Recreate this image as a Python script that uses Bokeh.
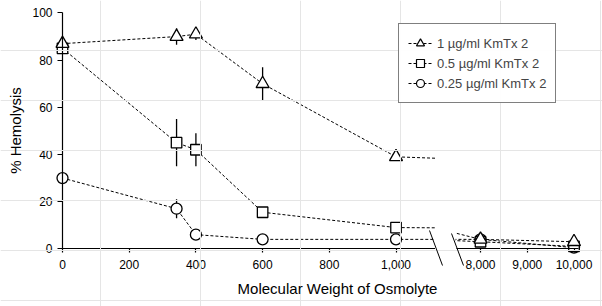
import math
from bokeh.plotting import figure
from bokeh.layouts import row
from bokeh.models import (Range1d, FixedTicker, NumeralTickFormatter, Legend, LegendItem,
                          Label, ColumnDataSource)
from bokeh.embed import file_html
from bokeh.resources import INLINE

# ---- data ----
mw = [0, 342, 400, 600, 1000, 8000, 10000]
hemo_1 = [87, 90, 91, 70, 39, 4, 3]
err_1 = [0, 3.5, 2.5, 7, 0, 0, 0]
hemo_05 = [85, 45, 42, 15.5, 9, 3, 1]
err_05 = [0, 10, 7, 0, 0, 0, 0]
hemo_025 = [30, 17, 6, 4, 4, 4, 0.5]
err_025 = [0, 4, 0, 0, 0, 0, 0]
series_labels = ["1 µg/ml KmTx 2", "0.5 µg/ml KmTx 2", "0.25 µg/ml KmTx 2"]

left_ticks = [0, 200, 400, 600, 800, 1000]
right_ticks = [8000, 9000, 10000]
y_ticks = [0, 20, 40, 60, 80, 100]

FONT = "Liberation Sans"

# drawing order: circles, squares, triangles (triangles on top)
series = [
    (hemo_025, err_025, "circle", 11, series_labels[2]),
    (hemo_05, err_05, "square", 10.5, series_labels[1]),
    (hemo_1, err_1, "triangle", 13, series_labels[0]),
]


def common(p):
    p.outline_line_color = None
    p.background_fill_color = None
    p.border_fill_color = None
    p.grid.visible = False


def make_sources():
    srcs = []
    for ys, es, mk, sz, lab in series:
        lo = [y - e for y, e in zip(ys, es)]
        hi = [y + e for y, e in zip(ys, es)]
        srcs.append(ColumnDataSource(dict(x=mw, y=ys, lo=lo, hi=hi)))
    return srcs


def draw(p):
    srcs = make_sources()
    for src in srcs:
        p.segment(x0="x", y0="lo", x1="x", y1="hi", source=src,
                  line_color="black", line_width=1.3)
    for src in srcs:
        p.line("x", "y", source=src, line_color="black", line_width=1, line_dash="3 2")
    for src, (ys, es, mk, sz, lab) in zip(srcs, series):
        p.scatter("x", "y", source=src, marker=mk, size=sz,
                  fill_color="white", line_color="black", line_width=1.3)


def style_axis(ax, ticks, bounds, tick_out, standoff):
    ax.ticker = FixedTicker(ticks=ticks)
    ax.fixed_location = 0
    ax.bounds = bounds
    ax.axis_line_color = "black"
    ax.axis_line_width = 1.2
    ax.major_tick_line_color = "black"
    ax.major_tick_line_width = 1.2
    ax.major_tick_out = tick_out
    ax.major_tick_in = 0
    ax.minor_tick_out = 0
    ax.minor_tick_in = 0
    ax.major_label_text_font = FONT
    ax.major_label_text_font_size = "12px"
    ax.major_label_text_color = "black"
    ax.major_label_standoff = standoff


y_range = (-24.47, 105.30)

# ---- left segment (frame ends at the axis break) ----
L = figure(width=435, height=306, x_range=Range1d(-185.9, 1118.4),
           y_range=Range1d(*y_range), output_backend="svg", toolbar_location=None,
           min_border=0)
common(L)
draw(L)
style_axis(L.xaxis[0], left_ticks, (0, 1118), 4, 7)
L.xaxis[0].formatter = NumeralTickFormatter(format="0,0")
style_axis(L.yaxis[0], y_ticks, (0, 100), 5, 5)

# ---- right segment ----
R = figure(width=147, height=306, x_range=Range1d(7465, 10609.6),
           y_range=Range1d(*y_range), output_backend="svg", toolbar_location=None,
           y_axis_location=None, min_border=0)
common(R)
draw(R)
style_axis(R.xaxis[0], right_ticks, (7487, 10096), 4, 7)
R.xaxis[0].formatter = NumeralTickFormatter(format="0,0")
R.styles = {"margin-left": "20px"}

# ---- overlay: axis titles, break marks, legend ----
O = figure(width=602, height=306, x_range=Range1d(0, 602), y_range=Range1d(306, 0),
           output_backend="svg", toolbar_location=None, x_axis_location=None,
           y_axis_location=None, min_border=0)
O.outline_line_color = None
O.background_fill_color = None
O.border_fill_color = None
O.styles = {"margin-left": "-602px"}

O.add_layout(Label(x=15, y=130, text="% Hemolysis", angle=math.pi / 2,
                   text_align="center", text_baseline="middle",
                   text_font=FONT, text_font_size="15px", text_color="black"))
O.add_layout(Label(x=337, y=288, text="Molecular Weight of Osmolyte",
                   text_align="center", text_baseline="alphabetic",
                   text_font=FONT, text_font_size="15px", text_color="black"))
O.segment(x0=[429, 451], y0=[230, 233], x1=[442, 463], y1=[265, 265],
          line_color="black", line_width=1)

# legend: hidden renderers carry the series styles for the legend glyphs
items = []
for src, (ys, es, mk, sz, lab) in reversed(list(zip(make_sources(), series))):
    ln = O.line("x", "y", source=src, line_color="black", line_width=1,
                line_dash="3 2", visible=False)
    sc = O.scatter("x", "y", source=src, marker=mk, size=sz, fill_color="white",
                   line_color="black", line_width=1.2, visible=False)
    items.append(LegendItem(label=lab, renderers=[ln, sc]))
legend = Legend(items=items, location=(398, 203), border_line_color="black",
                border_line_width=1, label_text_font=FONT, label_text_font_size="13px",
                glyph_width=24, glyph_height=20, label_height=14, spacing=-5,
                padding=9, label_standoff=5, margin=0, background_fill_color="white",
                inactive_fill_alpha=0)
O.add_layout(legend)

layout = row(L, R, O)
open("out.html", "w").write(file_html(layout, INLINE))
